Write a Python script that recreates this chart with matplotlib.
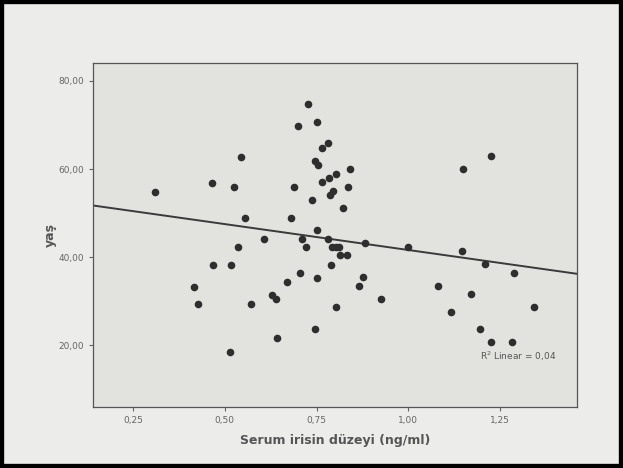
import matplotlib
matplotlib.use('Agg')
import matplotlib.pyplot as plt
from matplotlib.patches import Rectangle
import numpy as np

# serum irisin (ng/ml) vs age
irisin = [0.31, 0.544, 0.466, 0.526, 0.728, 0.70, 0.75, 0.78, 0.766, 0.747,
          0.754, 0.841, 0.804, 0.785, 0.766, 0.688, 0.836, 0.796, 0.788, 0.739,
          0.822, 0.554, 0.68, 0.75, 0.608, 0.71, 0.78, 0.536, 0.722, 0.793,
          0.802, 0.812, 0.815, 0.832, 1.225, 1.15, 0.882, 0.999, 1.147, 0.468,
          0.516, 0.79, 0.704, 0.751, 0.669, 0.866, 0.416, 0.428, 0.571, 0.629,
          0.639, 0.804, 0.747, 0.641, 0.515, 0.876, 0.925, 1.082, 1.117, 1.171,
          1.21, 1.288, 1.342, 1.196, 1.225, 1.283]
age = [54.9, 62.8, 56.9, 55.9, 74.8, 69.8, 70.7, 65.9, 64.8, 61.9,
       61.0, 60.0, 58.9, 57.9, 57.0, 56.0, 56.0, 55.0, 54.0, 53.0,
       51.1, 49.0, 49.0, 46.2, 44.2, 44.2, 44.2, 42.3, 42.3, 42.3,
       42.3, 42.3, 40.4, 40.4, 63.0, 60.1, 43.3, 42.3, 41.4, 38.2,
       38.2, 38.3, 36.4, 35.4, 34.3, 33.4, 33.3, 29.4, 29.5, 31.5,
       30.5, 28.6, 23.7, 21.6, 18.6, 35.5, 30.6, 33.4, 27.6, 31.6,
       38.5, 36.4, 28.6, 23.7, 20.7, 20.7]

x_ticks = [0.25, 0.50, 0.75, 1.00, 1.25]
y_ticks = [20, 40, 60, 80]
x_lim = (0.14, 1.46)
y_lim = (6, 84)

fig = plt.figure(figsize=(6.23, 4.68), dpi=100)
fig.patch.set_facecolor('#ececea')
fig.patches.append(Rectangle((0, 0), 1, 1, transform=fig.transFigure,
                             fill=False, edgecolor='black', linewidth=6))

ax = fig.add_axes([0.149, 0.130, 0.777, 0.735])
ax.set_facecolor('#e2e2de')

ax.scatter(irisin, age, s=20, color='#2e2e2e', zorder=3)

# least-squares line over the full axis width
slope, intercept = np.polyfit(irisin, age, 1)
xx = np.array(x_lim)
ax.plot(xx, intercept + slope * xx, color='#3a3a3a', linewidth=1.4, zorder=2)

ax.text(1.195, 17.6, 'R$^2$ Linear = 0,04', fontsize=6.5, color='#555555',
        va='center')

ax.set_xlim(*x_lim)
ax.set_ylim(*y_lim)
ax.set_xticks(x_ticks)
ax.set_yticks(y_ticks)
ax.set_xticklabels([f'{v:.2f}'.replace('.', ',') for v in x_ticks])
ax.set_yticklabels([f'{v:.2f}'.replace('.', ',') for v in y_ticks])
ax.tick_params(labelsize=6.5, colors='#666666', length=3, width=0.8)
for s in ax.spines.values():
    s.set_color('#555555')
    s.set_linewidth(0.9)

ax.set_xlabel('Serum irisin düzeyi (ng/ml)', fontsize=9, fontweight='bold',
              color='#555555', labelpad=6)
ax.set_ylabel('yaş', fontsize=9, fontweight='bold', color='#555555',
              labelpad=1)

fig.savefig('out.png', dpi=100, facecolor=fig.get_facecolor())
